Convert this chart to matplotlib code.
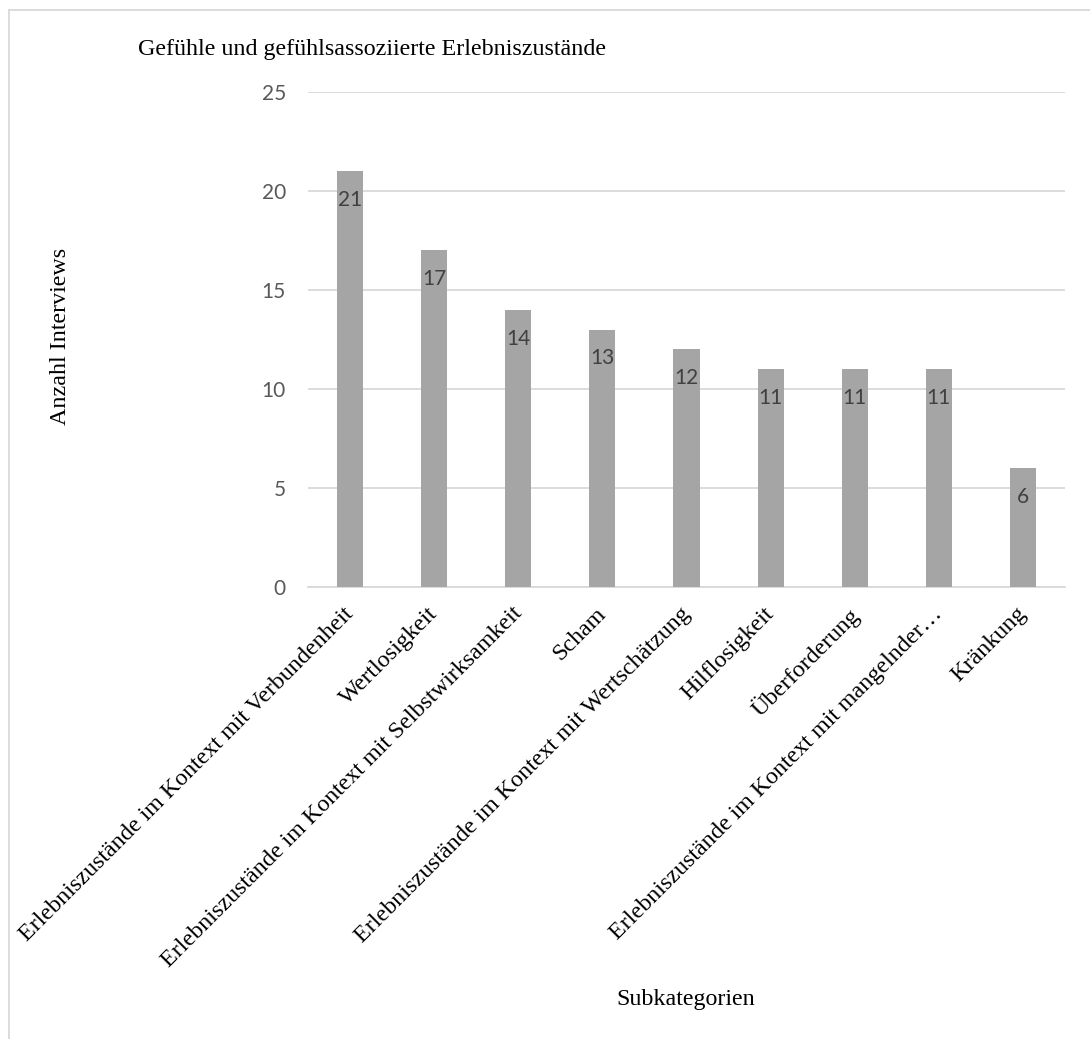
import matplotlib.pyplot as plt
from matplotlib.lines import Line2D
from matplotlib.transforms import ScaledTranslation

categories = [
    'Erlebniszustände im Kontext mit Verbundenheit',
    'Wertlosigkeit',
    'Erlebniszustände im Kontext mit Selbstwirksamkeit',
    'Scham',
    'Erlebniszustände im Kontext mit Wertschätzung',
    'Hilflosigkeit',
    'Überforderung',
    'Erlebniszustände im Kontext mit mangelnder…',
    'Kränkung',
]
counts = [21, 17, 14, 13, 12, 11, 11, 11, 6]
y_ticks = [0, 5, 10, 15, 20, 25]

serif = 'Liberation Serif'
sans = 'Lato'

fig = plt.figure(figsize=(10.9, 10.39), dpi=100)
ax = fig.add_axes([0.2826, 0.435, 0.6944, 0.4765])

x = range(len(categories))
bars = ax.bar(x, counts, width=0.31, color='#A5A5A5', zorder=3)
for rect, v in zip(bars, counts):
    ax.annotate(str(v), (rect.get_x() + rect.get_width() / 2, v),
                xytext=(0, -13.5), textcoords='offset points',
                ha='center', va='top', fontsize=15, family=sans,
                color='#404040', zorder=4)

ax.set_xlim(-0.5, len(categories) - 0.5)
ax.set_ylim(0, 25)
ax.set_yticks(y_ticks)
ax.yaxis.grid(True, color='#D9D9D9', linewidth=1.3, zorder=0)
for s in ['top', 'right', 'left']:
    ax.spines[s].set_visible(False)
ax.spines['bottom'].set_color('#D9D9D9')
ax.spines['bottom'].set_linewidth(1.3)
ax.tick_params(axis='both', length=0)
ax.tick_params(axis='y', pad=16, labelcolor='#595959', labelsize=15)
for lab in ax.get_yticklabels():
    lab.set_family(sans)

ax.set_xticks(list(x))
ax.set_xticklabels(categories, rotation=45, ha='right', rotation_mode='anchor',
                   family=serif, fontsize=17.3, color='black')
ax.tick_params(axis='x', pad=8)
# nudge the slanted category labels a little down and left
shift = ScaledTranslation(-0.07, -0.05, fig.dpi_scale_trans)
for lab in ax.get_xticklabels():
    lab.set_transform(lab.get_transform() + shift)

fig.text(138 / 1090, 1 - 50 / 1039, 'Gefühle und gefühlsassoziierte Erlebniszustände',
         family=serif, fontsize=17.3, ha='left', va='center')
fig.text(61 / 1090, 1 - 336 / 1039, 'Anzahl Interviews', family=serif, fontsize=17.3,
         rotation=90, ha='center', va='center')
fig.text(686 / 1090, 1 - 999 / 1039, 'Subkategorien', family=serif, fontsize=17.3,
         ha='center', va='center')

# chart frame (top and left edges)
fig.add_artist(Line2D([8.5 / 1090, 1], [1 - 9.5 / 1039] * 2, color='#D9D9D9', linewidth=1.3))
fig.add_artist(Line2D([8.5 / 1090] * 2, [0, 1 - 9.5 / 1039], color='#D9D9D9', linewidth=1.3))

fig.savefig('out.png', dpi=100)
